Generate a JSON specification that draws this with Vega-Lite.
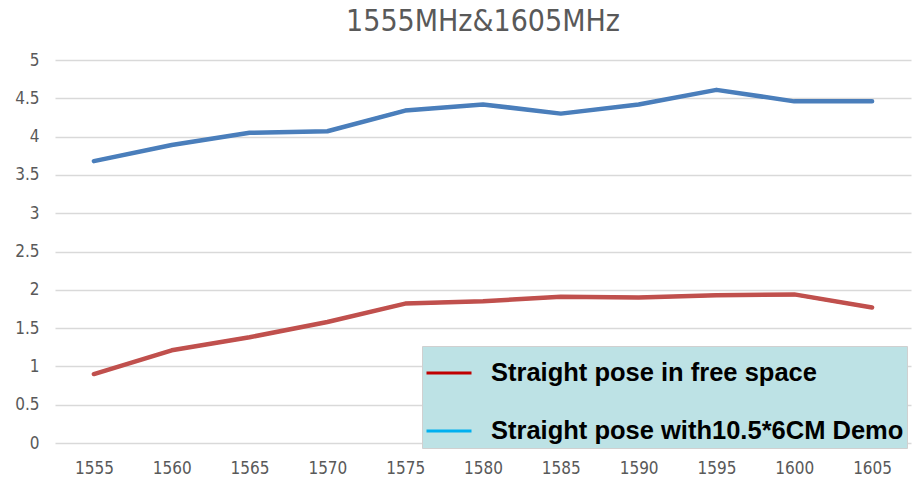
{
  "$schema": "https://vega.github.io/schema/vega-lite/v6.json",
  "width": 856,
  "height": 383,
  "autosize": {"type": "pad"},
  "padding": {"left": 14, "top": 7, "right": 5, "bottom": 5},
  "background": "white",
  "title": {
    "text": "1555MHz&1605MHz",
    "font": "Liberation Sans Narrow, DejaVu Sans Condensed, sans-serif",
    "fontSize": 30,
    "fontWeight": "normal",
    "color": "#595959",
    "offset": 14,
    "anchor": "middle"
  },
  "data": {
    "values": [
      {"f": "1555", "s": "Straight pose in free space", "v": 0.9},
      {"f": "1560", "s": "Straight pose in free space", "v": 1.21},
      {"f": "1565", "s": "Straight pose in free space", "v": 1.38},
      {"f": "1570", "s": "Straight pose in free space", "v": 1.58},
      {"f": "1575", "s": "Straight pose in free space", "v": 1.82},
      {"f": "1580", "s": "Straight pose in free space", "v": 1.85},
      {"f": "1585", "s": "Straight pose in free space", "v": 1.91},
      {"f": "1590", "s": "Straight pose in free space", "v": 1.9},
      {"f": "1595", "s": "Straight pose in free space", "v": 1.93},
      {"f": "1600", "s": "Straight pose in free space", "v": 1.94},
      {"f": "1605", "s": "Straight pose in free space", "v": 1.77},
      {"f": "1555", "s": "Straight pose with10.5*6CM Demo", "v": 3.68},
      {"f": "1560", "s": "Straight pose with10.5*6CM Demo", "v": 3.89},
      {"f": "1565", "s": "Straight pose with10.5*6CM Demo", "v": 4.05},
      {"f": "1570", "s": "Straight pose with10.5*6CM Demo", "v": 4.07},
      {"f": "1575", "s": "Straight pose with10.5*6CM Demo", "v": 4.34},
      {"f": "1580", "s": "Straight pose with10.5*6CM Demo", "v": 4.42},
      {"f": "1585", "s": "Straight pose with10.5*6CM Demo", "v": 4.3},
      {"f": "1590", "s": "Straight pose with10.5*6CM Demo", "v": 4.42},
      {"f": "1595", "s": "Straight pose with10.5*6CM Demo", "v": 4.61},
      {"f": "1600", "s": "Straight pose with10.5*6CM Demo", "v": 4.46},
      {"f": "1605", "s": "Straight pose with10.5*6CM Demo", "v": 4.46}
    ]
  },
  "encoding": {
    "x": {
      "field": "f",
      "type": "ordinal",
      "scale": {"type": "point", "padding": 0.5},
      "axis": {
        "title": null,
        "labelAngle": 0,
        "domain": false,
        "ticks": false,
        "grid": false,
        "labelPadding": 17,
        "labelFont": "Liberation Sans Narrow, DejaVu Sans Condensed, sans-serif",
        "labelFontSize": 17,
        "labelColor": "#595959"
      }
    },
    "y": {
      "field": "v",
      "type": "quantitative",
      "scale": {"domain": [0, 5], "nice": false},
      "axis": {
        "title": null,
        "values": [0, 0.5, 1, 1.5, 2, 2.5, 3, 3.5, 4, 4.5, 5],
        "format": ".1~f",
        "domain": false,
        "ticks": false,
        "grid": true,
        "gridColor": "#d9d9d9",
        "gridWidth": 1.3,
        "labelPadding": 16,
        "labelFont": "Liberation Sans Narrow, DejaVu Sans Condensed, sans-serif",
        "labelFontSize": 17,
        "labelColor": "#595959"
      }
    }
  },
  "layer": [
    {
      "mark": {"type": "line", "strokeWidth": 3, "strokeCap": "round", "strokeJoin": "round"},
      "encoding": {
        "stroke": {
          "field": "s",
          "type": "nominal",
          "scale": {
            "domain": ["Straight pose in free space", "Straight pose with10.5*6CM Demo"],
            "range": ["#c00000", "#00b0f0"]
          },
          "legend": {
            "title": null,
            "orient": "none",
            "legendX": 367,
            "legendY": 286,
            "symbolType": "stroke",
            "symbolSize": 2025,
            "symbolStrokeWidth": 3,
            "rowPadding": 20,
            "padding": 3,
            "labelOffset": 18,
            "labelFont": "Liberation Sans, Arial, sans-serif",
            "labelFontSize": 25.5,
            "labelFontWeight": "bold",
            "labelColor": "#000000",
            "labelLimit": 500,
            "fillColor": "#bde2e5",
            "strokeColor": "#d0d0d0"
          }
        }
      }
    },
    {
      "mark": {"type": "line", "strokeWidth": 4.5, "strokeCap": "round", "strokeJoin": "round"},
      "encoding": {
        "color": {
          "field": "s",
          "type": "nominal",
          "scale": {
            "domain": ["Straight pose in free space", "Straight pose with10.5*6CM Demo"],
            "range": ["#c0504d", "#4a7ebb"]
          },
          "legend": null
        }
      }
    }
  ],
  "config": {"view": {"stroke": null}}
}
